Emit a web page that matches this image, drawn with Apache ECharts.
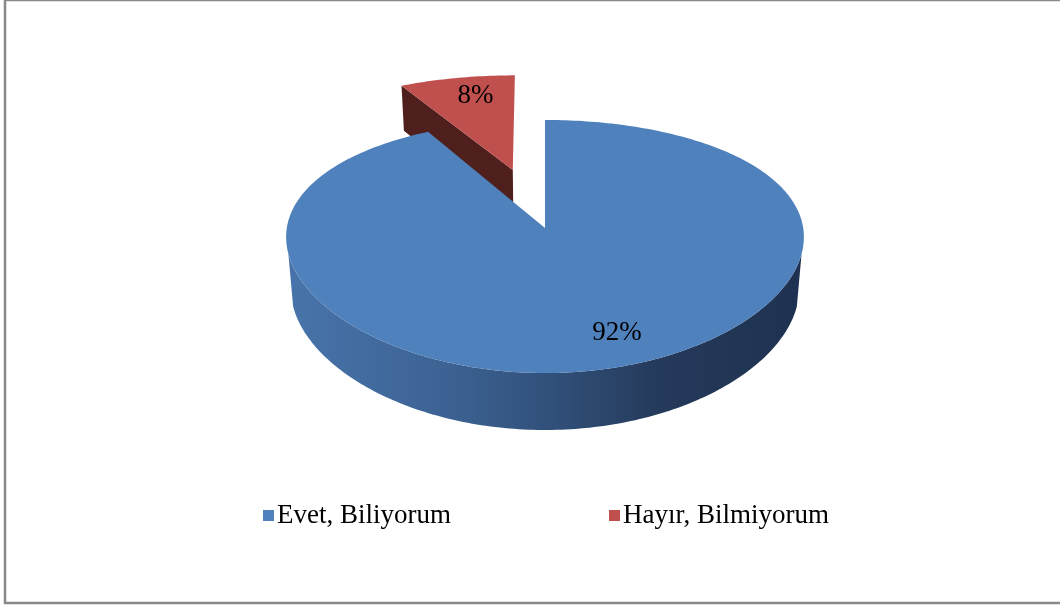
<!DOCTYPE html>
<html>
<head>
<meta charset="utf-8">
<script src="https://cdn.jsdelivr.net/npm/echarts@6/dist/echarts.min.js"></script>
<style>html,body{margin:0;padding:0;background:#fff}#c{width:1060px;height:608px}</style>
</head>
<body>
<div id="c"></div>
<script>
// ---- data ----
const categories = ['Evet, Biliyorum', 'Hayır, Bilmiyorum'];
const values = [92, 8];
const explodeAmount = [0, 0.52];

// ---- styles ----
const topColors = ['#4F81BD', '#C0504D'];
const cutColors = ['#2C4A70', '#4F1F1E'];
const labelShiftX = [19, 7];
const sideStops = [
  [{offset:0,color:'#4874AB'},{offset:0.3,color:'#3D6394'},{offset:0.5,color:'#31517B'},{offset:0.72,color:'#253A5B'},{offset:1,color:'#1E3150'}],
  [{offset:0,color:'#A94442'},{offset:1,color:'#6E2A28'}]
];

// ---- projection (perspective 3D pie) ----
const CX = 545, CY = 228, F = 1548, D = 6;
const SIN = 0.48, COS = 0.877, H = 0.2315;
const KX = 258.2, PX = 0.0723, QX = 0.08;
function proj(X, Y, Z) {
  const d = D + Y * COS - Z * SIN;
  return [CX + KX * X / (1 + PX * Y - QX * Z), CY - F * (Y * SIN + Z * COS) / d];
}
function signedArea(pts) {
  let s = 0;
  for (let k = 0; k < pts.length; k++) {
    const p = pts[k], q = pts[(k + 1) % pts.length];
    s += p[0] * q[1] - q[0] * p[1];
  }
  return s / 2;
}
const total = values.reduce((a, b) => a + b, 0);

function makeRender(i) {
  return function (params, api) {
    const v = api.value(0);
    let before = 0;
    for (let k = 0; k < i; k++) before += values[k];
    const a0 = before / total * Math.PI * 2;
    const a1 = a0 + v / total * Math.PI * 2;
    const mid = (a0 + a1) / 2;
    const ox = explodeAmount[i] * Math.sin(mid), oy = explodeAmount[i] * Math.cos(mid);
    const rim = (t, z) => proj(Math.sin(t) + ox, Math.cos(t) + oy, z);
    const children = [];
    const sideFill = {type:'linear', x:287, y:0, x2:805, y2:0, global:true, colorStops: sideStops[i]};
    // side: visible runs
    const N = Math.max(4, Math.ceil((a1 - a0) / (Math.PI / 180)));
    let run = [];
    const flush = () => {
      if (run.length > 1) {
        const pts = run.map(t => rim(t, 0)).concat(run.slice().reverse().map(t => rim(t, -H)));
        children.push({type:'polygon', shape:{points:pts}, style:{fill:sideFill, stroke:null}});
      }
      run = [];
    };
    for (let s = 0; s <= N; s++) {
      const t = a0 + (a1 - a0) * s / N;
      const vis = -1 - ox * Math.sin(t) - (D * COS + oy) * Math.cos(t) > 0;
      if (vis) run.push(t); else flush();
    }
    flush();
    // cut faces (screen-space facing test)
    const c0 = proj(ox, oy, 0), c1 = proj(ox, oy, -H);
    const startFace = [c0, rim(a0, 0), rim(a0, -H), c1];
    const endFace = [c0, rim(a1, 0), rim(a1, -H), c1];
    if (-signedArea(startFace) > 400) children.push({type:'polygon', shape:{points:startFace}, style:{fill:cutColors[i]}});
    if (signedArea(endFace) > 400) children.push({type:'polygon', shape:{points:endFace}, style:{fill:cutColors[i]}});
    // top face
    const topPts = [c0];
    for (let s = 0; s <= N; s++) topPts.push(rim(a0 + (a1 - a0) * s / N, 0));
    children.push({type:'polygon', shape:{points:topPts}, style:{fill:topColors[i]}});
    // label
    const lr = 0.78;
    const lp = proj(lr * Math.sin(mid) + ox, lr * Math.cos(mid) + oy, 0);
    children.push({type:'text', style:{text: Math.round(v / total * 100) + '%', x: lp[0] + labelShiftX[i], y: lp[1],
      align:'center', verticalAlign:'middle', fontSize:27, fontFamily:'"Liberation Serif", serif', fill:'#000'}});
    return {type:'group', children};
  };
}

const chart = echarts.init(document.getElementById('c'), null, {renderer:'canvas'});
chart.setOption({
  animation: false,
  backgroundColor: '#fff',
  graphic: [{type:'rect', shape:{x:5, y:0, width:1060, height:603}, style:{fill:null, stroke:'#898989', lineWidth:2.5}, silent:true}],
  legend: {
    data: categories,
    left: 258, top: 497,
    icon: 'rect', itemWidth: 11, itemHeight: 11, itemGap: 158,
    textStyle: {fontSize: 27, fontFamily: '"Liberation Serif", serif', color: '#000', padding:[0,0,0,-2]}
  },
  series: categories.map((name, i) => ({
    type: 'custom',
    name: name,
    coordinateSystem: 'none',
    z: i === 0 ? 3 : 2,
    itemStyle: {color: topColors[i]},
    renderItem: makeRender(i),
    data: [[values[i]]]
  }))
});
</script>
</body>
</html>
